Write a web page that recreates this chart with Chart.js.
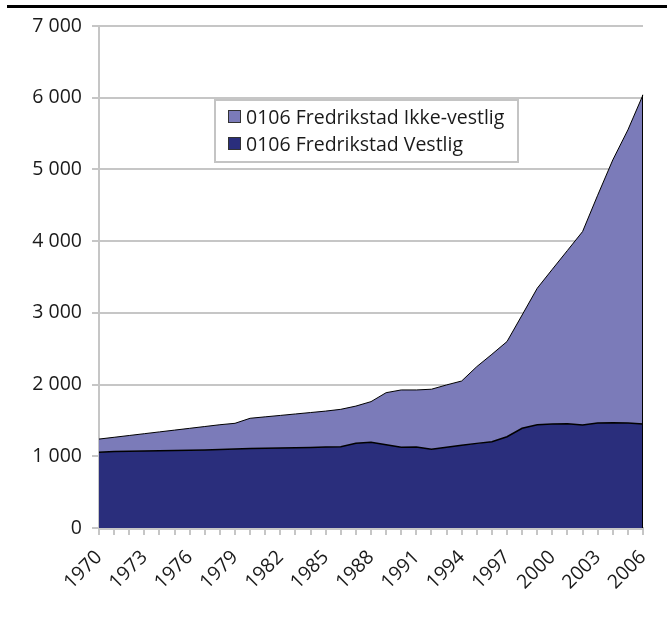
<!DOCTYPE html>
<html>
<head>
<meta charset="utf-8">
<script src="https://cdn.jsdelivr.net/npm/chart.js@4.4.1/dist/chart.umd.min.js"></script>
<style>
  html, body { margin: 0; padding: 0; background: #fff; }
  #wrap { width: 667px; height: 621px; position: relative; }
</style>
</head>
<body>
<div id="wrap"><canvas id="myChart"></canvas></div>
<script>
// data (persons, stacked)
const years = [];
for (let y = 1970; y <= 2006; y++) years.push(String(y));

const vestlig = [1056, 1065, 1070, 1073, 1077, 1081, 1085, 1089, 1093, 1100,
                 1108, 1112, 1116, 1120, 1124, 1128, 1134, 1181, 1195, 1160,
                 1125, 1128, 1098, 1125, 1153, 1180, 1204, 1273, 1390, 1441,
                 1450, 1455, 1437, 1465, 1469, 1465, 1450];

const ikkeVestlig = [184, 200, 220, 242, 263, 284, 305, 326, 347, 360,
                     422, 438, 454, 470, 486, 502, 521, 519, 567, 727,
                     800, 797, 837, 870, 897, 1070, 1218, 1327, 1580, 1902,
                     2158, 2415, 2696, 3175, 3663, 4086, 4590];

const seriesNames = ['0106 Fredrikstad Vestlig', '0106 Fredrikstad Ikke-vestlig'];
const yTicks = [0, 1000, 2000, 3000, 4000, 5000, 6000, 7000];

const FONT = '"Open Sans", "Noto Sans", sans-serif';
const FSIZE = 19.5;
const TEXT = '#1a1a1a';
const GRID = '#c6c6c6';

function spaced(v) {
    return String(v).replace(/\B(?=(\d{3})+(?!\d))/g, ' ');
}

// top rule, right edge of the area, and the boxed legend
const decor = {
    id: 'decor',
    beforeDraw(chart) {
        const c = chart.ctx;
        c.save();
        c.fillStyle = '#000';
        c.fillRect(7, 5, 660, 3);
        c.restore();
    },
    afterDatasetsDraw(chart) {
        const c = chart.ctx;
        const last = years.length - 1;
        const x = chart.scales.x.getPixelForValue(last);
        const top = chart.scales.y.getPixelForValue(vestlig[last] + ikkeVestlig[last]);
        const base = chart.scales.y.getPixelForValue(0);
        c.save();
        c.strokeStyle = '#000';
        c.lineWidth = 1;
        c.beginPath();
        c.moveTo(x - 0.5, top);
        c.lineTo(x - 0.5, base);
        c.stroke();
        c.restore();
    },
    afterDraw(chart) {
        const c = chart.ctx;
        const bx = 215, by = 100, bw = 303, bh = 62;
        c.save();
        c.fillStyle = '#fff';
        c.fillRect(bx, by, bw, bh);
        c.strokeStyle = '#c4c4c4';
        c.lineWidth = 2;
        c.strokeRect(bx, by, bw, bh);
        const rows = [
            { label: seriesNames[1], color: chart.data.datasets[1].backgroundColor },
            { label: seriesNames[0], color: chart.data.datasets[0].backgroundColor }
        ];
        c.font = FSIZE + 'px ' + FONT;
        c.textBaseline = 'middle';
        rows.forEach((r, i) => {
            const cy = by + 17 + i * 27;
            c.fillStyle = r.color;
            c.fillRect(228, cy - 7, 13, 13);
            c.strokeStyle = '#333';
            c.lineWidth = 1;
            c.strokeRect(228.5, cy - 6.5, 12, 12);
            c.fillStyle = TEXT;
            c.fillText(r.label, 246, cy + 1);
        });
        c.restore();
    }
};

const ctx = document.getElementById('myChart').getContext('2d');
const chart = new Chart(ctx, {
    type: 'line',
    data: {
        labels: years,
        datasets: [{
            label: seriesNames[0],
            data: vestlig,
            backgroundColor: '#2a2e7c',
            borderColor: '#000',
            borderWidth: 1.5,
            fill: 'origin',
            pointRadius: 0,
            tension: 0
        }, {
            label: seriesNames[1],
            data: ikkeVestlig,
            backgroundColor: '#7b7bb9',
            borderColor: '#000',
            borderWidth: 1,
            fill: '-1',
            pointRadius: 0,
            tension: 0
        }]
    },
    options: {
        responsive: true,
        maintainAspectRatio: false,
        animation: false,
        layout: { padding: { top: 26, right: 24, left: 0, bottom: 0 } },
        scales: {
            x: {
                offset: false,
                grid: {
                    drawOnChartArea: false,
                    drawTicks: true,
                    tickLength: 7,
                    color: GRID,
                    lineWidth: 2
                },
                border: { color: GRID, width: 3 },
                ticks: {
                    autoSkip: false,
                    maxRotation: 45,
                    minRotation: 45,
                    padding: 11,
                    color: TEXT,
                    font: { family: FONT, size: FSIZE },
                    callback: function (value, index) {
                        return index % 3 === 0 ? years[index] : '';
                    }
                },
                afterFit: function (scale) {
                    scale.height = 93;
                    scale.paddingLeft = 0;
                    scale.paddingRight = 0;
                }
            },
            y: {
                stacked: true,
                min: 0,
                max: 7000,
                afterBuildTicks: function (scale) {
                    scale.ticks = yTicks.map(v => ({ value: v }));
                },
                grid: {
                    color: GRID,
                    lineWidth: 2,
                    tickLength: 7
                },
                border: { color: GRID, width: 2 },
                ticks: {
                    padding: 10,
                    color: TEXT,
                    font: { family: FONT, size: FSIZE },
                    callback: function (value) {
                        return spaced(value);
                    }
                },
                afterFit: function (scale) { scale.width = 99; }
            }
        },
        plugins: {
            legend: { display: false },
            tooltip: { enabled: false },
            title: { display: false }
        }
    },
    plugins: [decor]
});
</script>
</body>
</html>
